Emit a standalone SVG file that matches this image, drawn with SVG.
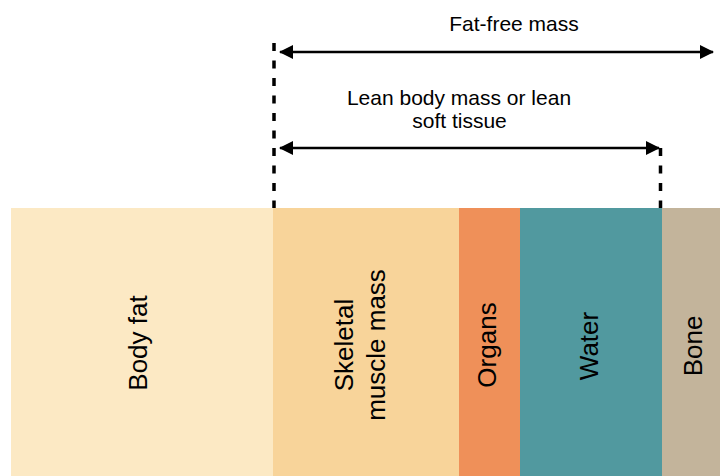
<svg xmlns="http://www.w3.org/2000/svg" width="720" height="476" viewBox="0 0 720 476">
<style>
.lbl{font-family:"Liberation Sans",Arial,sans-serif;font-size:26px;fill:#000;text-anchor:middle}
.top{font-family:"Liberation Sans",Arial,sans-serif;font-size:21px;fill:#000;text-anchor:middle}
.dash{stroke:#000;stroke-width:3.5;stroke-dasharray:8 9.5;fill:none}
.arr{stroke:#000;stroke-width:2.5;fill:none;marker-start:url(#ah);marker-end:url(#ah)}
</style>
<defs>
<marker id="ah" viewBox="0 0 14 14" refX="13" refY="7" markerWidth="14" markerHeight="14" markerUnits="userSpaceOnUse" orient="auto-start-reverse">
<path d="M0,0 L14,7 L0,14 Z" fill="#000"/>
</marker>
</defs>
<rect width="720" height="476" fill="#fff"/>
<g id="body-fat">
<rect x="11" y="208" width="262" height="268" fill="#FCE9C4"/>
<text class="lbl" transform="translate(147,343) rotate(-90)">Body fat</text>
</g>
<g id="skeletal-muscle">
<rect x="273" y="208" width="186" height="268" fill="#F8D49A"/>
<text class="lbl" transform="translate(353,345) rotate(-90)">Skeletal</text>
<text class="lbl" transform="translate(385,345) rotate(-90)">muscle mass</text>
</g>
<g id="organs">
<rect x="459" y="208" width="61" height="268" fill="#EF9059"/>
<text class="lbl" transform="translate(496,345) rotate(-90)">Organs</text>
</g>
<g id="water">
<rect x="520" y="208" width="142" height="268" fill="#51999F"/>
<text class="lbl" transform="translate(598,346) rotate(-90)">Water</text>
</g>
<g id="bone">
<rect x="662" y="208" width="58" height="268" fill="#C3B49B"/>
<text class="lbl" transform="translate(702,346) rotate(-90)">Bone</text>
</g>
<g id="connectors">
<line class="dash" x1="274" y1="43" x2="274" y2="208"/>
<line class="dash" x1="660.5" y1="148" x2="660.5" y2="208"/>
<line class="arr" x1="280" y1="52" x2="713" y2="52"/>
<line class="arr" x1="280" y1="148" x2="659" y2="148"/>
</g>
<g id="labels">
<text class="top" x="514" y="31">Fat-free mass</text>
<text class="top" x="459" y="105">Lean body mass or lean</text>
<text class="top" x="459.5" y="128">soft tissue</text>
</g>
</svg>
